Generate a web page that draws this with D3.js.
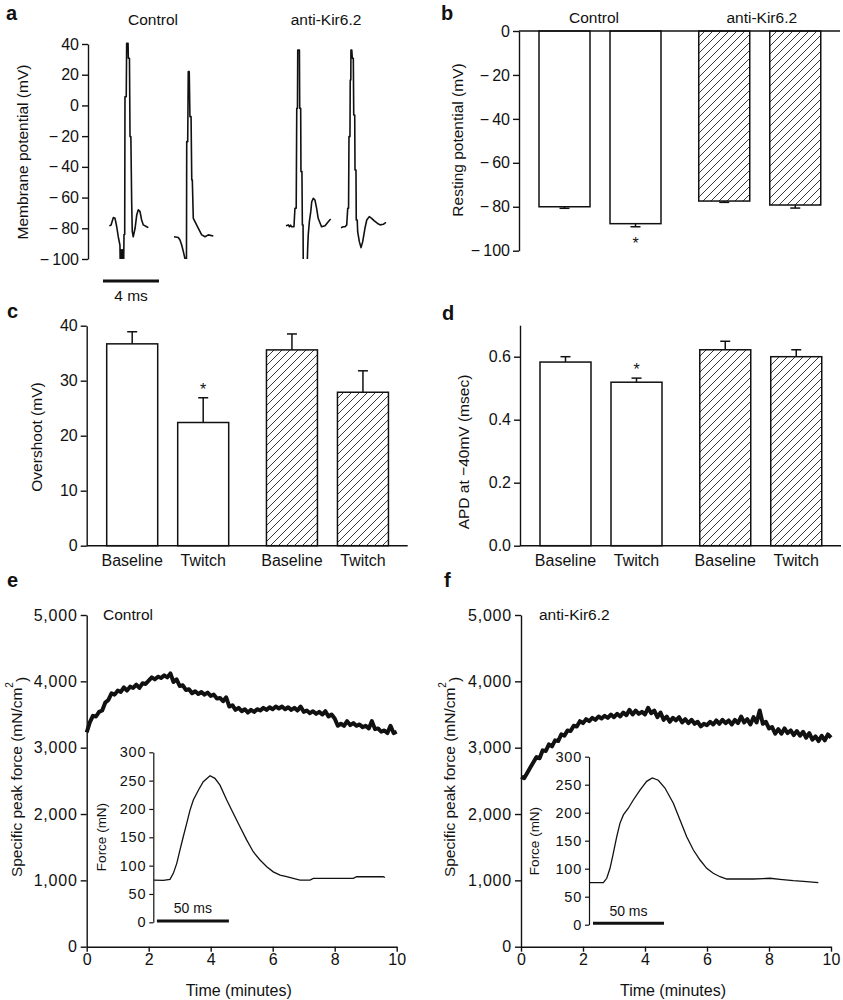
<!DOCTYPE html>
<html><head><meta charset="utf-8">
<script src="https://cdn.jsdelivr.net/npm/d3@7"></script>
<style>
body{margin:0;background:#fff}
svg text{font-family:"Liberation Sans",Arial,Helvetica,sans-serif;fill:#111}
</style></head><body><svg id="fig" width="843" height="1000"></svg>
<script>
// ---------------- DATA ----------------
// Panel a: action potential traces [time ms, mV]
const apControl1 = [[0.45,-78.3],[0.57,-78],[0.74,-73],[0.86,-73.5],[0.98,-79],[1.09,-85.5],[1.21,-91],[1.24,-108],[1.29,-94],[1.33,-108],[1.38,-94],[1.42,-108],[1.47,-108],[1.5,-84],[1.55,-84],[1.57,5.7],[1.66,5.7],[1.69,40.5],[1.79,40.5],[1.81,30.7],[1.89,30.7],[1.93,-20.3],[1.99,-20.3],[2.05,-63.7],[2.09,-82],[2.16,-85.5],[2.29,-80],[2.41,-71.3],[2.52,-68],[2.64,-69],[2.76,-74.6],[2.88,-77.8],[3.12,-79],[3.24,-79.6]];
const apControl2 = [[5.07,-85.5],[5.38,-86],[5.5,-87.6],[5.62,-90.9],[5.74,-95.2],[5.86,-100],[5.9,-108],[5.96,-108],[5.98,-23.6],[6.05,-23.6],[6.09,22],[6.16,22],[6.21,-7.3],[6.29,-7.3],[6.34,-48.5],[6.38,-48.5],[6.45,-73.5],[6.57,-75.7],[6.81,-80],[7.05,-84.3],[7.29,-85.5],[7.52,-84.3],[7.88,-85]];
const apAnti1 = [[13.07,-78.3],[13.24,-77.8],[13.32,-79],[13.4,-78],[13.48,-79],[13.64,-79],[13.71,-67],[13.8,-67],[13.84,-1.9],[13.89,-1.9],[13.91,36],[14.03,36],[14.05,-1.9],[14.12,-1.9],[14.14,-43.1],[14.21,-43.1],[14.24,-77.8],[14.29,-77.8],[14.31,-115],[14.55,-115],[14.62,-93],[14.66,-84.3],[14.74,-75.7],[14.84,-69.2],[14.91,-62.7],[15.02,-60.5],[15.14,-61.6],[15.26,-67],[15.37,-73.5],[15.61,-79],[15.86,-78.3],[16.09,-75.7],[16.26,-73.9]];
const apAnti2 = [[17.0,-79.6],[17.16,-79],[17.29,-79],[17.41,-77.8],[17.48,-67],[17.54,-67],[17.57,-20.3],[17.64,-20.3],[17.66,16.6],[17.7,16.6],[17.71,36],[17.77,36],[17.81,30.7],[17.88,30.7],[17.91,-6.2],[17.98,-6.2],[18.0,-42],[18.07,-42],[18.09,-74.6],[18.16,-74.6],[18.19,-82.2],[18.31,-88.7],[18.43,-92.6],[18.55,-88.7],[18.71,-80],[18.84,-74.6],[19.02,-72.4],[19.19,-73.5],[19.38,-75.2],[19.59,-76.7],[19.79,-77.8],[20.02,-77.4],[20.21,-76.1]];
const apTicks = [-100,-80,-60,-40,-20,0,20,40];

// Panels b-d: bar groups
const groups = ["Control", "anti-Kir6.2"];
const conditions = ["Baseline", "Twitch", "Baseline", "Twitch"];
const barGroup = [0, 0, 1, 1];
const restingMean = [-80.0, -87.7, -77.4, -79.2];
const restingErr  = [0.7, 1.4, 0.6, 1.4];
const overshootMean = [36.7, 22.4, 35.6, 27.9];
const overshootErr  = [2.2, 4.5, 2.9, 3.9];
const apdMean = [0.583, 0.519, 0.622, 0.600];
const apdErr  = [0.017, 0.013, 0.027, 0.022];
const starBar = 1;
const restingTicks = [0,-20,-40,-60,-80,-100];
const overshootTicks = [0,10,20,30,40];
const apdTicks = [0,0.2,0.4,0.6];

// Panels e-f: specific peak force over time
const forceMinutes = [0,0.1,0.2,0.3,0.4,0.5,0.6,0.7,0.8,0.9,1,1.1,1.2,1.3,1.4,1.5,1.6,1.7,1.8,1.9,2,2.1,2.2,2.3,2.4,2.5,2.6,2.7,2.8,2.9,3,3.1,3.2,3.3,3.4,3.5,3.6,3.7,3.8,3.9,4,4.1,4.2,4.3,4.4,4.5,4.6,4.7,4.8,4.9,5,5.1,5.2,5.3,5.4,5.5,5.6,5.7,5.8,5.9,6,6.1,6.2,6.3,6.4,6.5,6.6,6.7,6.8,6.9,7,7.1,7.2,7.3,7.4,7.5,7.6,7.7,7.8,7.9,8,8.1,8.2,8.3,8.4,8.5,8.6,8.7,8.8,8.9,9,9.1,9.2,9.3,9.4,9.5,9.6,9.7,9.8,9.9,10];
const forceControl = [3230,3380,3480,3470,3540,3560,3680,3720,3820,3800,3860,3840,3910,3860,3920,3900,3950,3900,3970,3960,4010,4060,4030,4070,4050,4090,4060,4120,3990,4030,3930,3940,3870,3880,3820,3850,3810,3840,3800,3830,3780,3800,3740,3750,3700,3760,3620,3640,3570,3600,3550,3580,3530,3570,3540,3580,3560,3600,3570,3610,3580,3620,3590,3620,3580,3610,3570,3600,3560,3620,3540,3560,3520,3550,3510,3540,3500,3550,3470,3500,3440,3330,3360,3330,3400,3340,3370,3330,3350,3310,3330,3290,3400,3280,3290,3240,3260,3220,3330,3220,3240];
const forceAnti = [2560,2540,2620,2700,2780,2860,2840,2960,2950,3050,3020,3110,3100,3200,3180,3260,3250,3330,3320,3400,3370,3430,3400,3450,3420,3470,3440,3480,3450,3500,3460,3510,3470,3530,3490,3570,3500,3560,3510,3540,3500,3600,3520,3560,3460,3530,3420,3470,3390,3450,3410,3460,3380,3430,3370,3420,3360,3390,3320,3360,3340,3390,3350,3410,3360,3420,3370,3410,3350,3420,3370,3470,3380,3430,3350,3460,3380,3560,3360,3390,3290,3310,3210,3280,3210,3290,3220,3260,3190,3250,3180,3240,3150,3220,3120,3170,3100,3180,3110,3200,3150];
const forceTicks = [0,1000,2000,3000,4000,5000];
const minuteTicks = [0,2,4,6,8,10];

// Insets: single twitch [time ms, mN]
const twitchControl = [[0.5,74.6],[6.9,74],[11.6,75.8],[13.9,86.4],[16.3,104],[18.5,127.5],[20.8,151],[23.2,174.6],[25.5,198],[27.8,215.7],[31.3,233],[34.7,248],[39.4,258.6],[42.8,254],[46.3,242],[51,215.7],[55.6,192],[60.2,168.6],[64.9,145],[69.4,124.5],[74.1,110],[78.8,98],[83.3,89],[88,83.4],[92.6,80.4],[97.2,77.6],[101.9,74.6],[108.8,74.6],[111.1,77.6],[125,77.6],[138.9,77.6],[141.2,80.4],[159.7,80.4],[160.9,79]];
const twitchAnti = [[0,75],[10.1,75],[12.5,82.9],[14.8,100.7],[17.1,127.5],[19.5,157],[21.8,181],[24.2,196],[27.7,208],[31.2,222.7],[35.9,240.5],[40.6,256],[44.6,262],[48.8,258],[53.5,244],[59.4,216.8],[64.1,187],[68.8,157],[73.5,133.4],[78.2,115.5],[82.9,100.7],[87.5,91.8],[92.3,85.7],[97,81.6],[106.3,81.6],[115.7,81.6],[127.5,82.9],[134.5,81],[143.9,78.6],[153.3,76.8],[161.5,75]];
const twitchTicks = [0,50,100,150,200,250,300];

// ---------------- DRAWING ----------------
const FONT = '"Liberation Sans", Arial, Helvetica, sans-serif';
const INK = "#111";
const svg = d3.select("#fig");
svg.append("rect").attr("width",843).attr("height",1000).attr("fill","#fff");
const defs = svg.append("defs");
const pat = defs.append("pattern").attr("id","hatch").attr("patternUnits","userSpaceOnUse").attr("width",8).attr("height",8);
pat.append("rect").attr("width",8).attr("height",8).attr("fill","#fff");
pat.append("path").attr("d","M-2,2L2,-2M0,8L8,0M6,10L10,6").attr("stroke","#222").attr("stroke-width",0.9);

const minusFmt = d => d < 0 ? "\u2212\u2009" + Math.abs(d) : String(d);

function styleAxis(g, size, sw){
  g.attr("font-family", FONT).attr("font-size", size);
  g.select(".domain").attr("stroke", INK).attr("stroke-width", sw || 1.4);
  g.selectAll(".tick line").attr("stroke", INK).attr("stroke-width", sw || 1.4);
  g.selectAll(".tick text").attr("fill", INK);
  return g;
}
function yLabel(cx, cy, txt, size){
  const t = svg.append("text").attr("transform",`translate(${cx},${cy}) rotate(-90)`)
    .attr("text-anchor","middle").attr("dy","0.35em").attr("font-size", size || 15.5);
  return t.text(txt);
}
function letter(t, x, y){
  svg.append("text").attr("x",x).attr("y",y).attr("font-size",20).attr("font-weight","bold").text(t);
}

// ----- Panel a -----
{
  const y = d3.scaleLinear().domain([-100,40]).range([259,44]);
  const x = d3.scaleLinear().domain([0,21.5]).range([103,404]);
  styleAxis(svg.append("g").attr("transform","translate(88,0)")
    .call(d3.axisLeft(y).tickValues(apTicks).tickFormat(minusFmt).tickSize(6).tickSizeOuter(0).tickPadding(3)), 16);
  defs.append("clipPath").attr("id","clipA").append("rect").attr("x",90).attr("y",30).attr("width",320).attr("height",y(-100)-30);
  const line = d3.line().x(d=>x(d[0])).y(d=>y(d[1]));
  const tg = svg.append("g").attr("clip-path","url(#clipA)");
  [apControl1, apControl2, apAnti1, apAnti2].forEach(tr => {
    tg.append("path").attr("d", line(tr)).attr("fill","none").attr("stroke",INK).attr("stroke-width",1.6).attr("stroke-linejoin","round");
  });
  // 4 ms scale bar
  svg.append("line").attr("x1",x(0)).attr("x2",x(4)).attr("y1",281).attr("y2",281).attr("stroke",INK).attr("stroke-width",3);
  svg.append("text").attr("x",x(2)).attr("y",301).attr("text-anchor","middle").attr("font-size",15.5).text("4 ms");
  svg.append("text").attr("x",153).attr("y",25).attr("text-anchor","middle").attr("font-size",15.5).text(groups[0]);
  svg.append("text").attr("x",326).attr("y",25).attr("text-anchor","middle").attr("font-size",15.5).text(groups[1]);
  yLabel(23, 152, "Membrane potential (mV)");
  letter("a", 6, 20);
}

// ----- Bar panels -----
function barPanel(o){
  const y = o.y;
  const slots = barGroup.map((g,i) => i + g*0.25);
  const xs = d3.scaleLinear().domain([0,1]).range([o.axisX+20, o.axisX+91]);
  const bw = 51;
  const g = svg.append("g");
  o.means.forEach((m,i) => {
    const y0 = y(0), y1 = y(m);
    g.append("rect").attr("x", xs(slots[i])).attr("y", Math.min(y0,y1)).attr("width", bw).attr("height", Math.abs(y1-y0))
      .attr("fill", barGroup[i] === 1 ? "url(#hatch)" : "#fff").attr("stroke", INK).attr("stroke-width",1.5);
    const end = m + Math.sign(m)*o.errs[i];
    const cx = xs(slots[i]) + bw/2;
    g.append("line").attr("x1",cx).attr("x2",cx).attr("y1",y1).attr("y2",y(end)).attr("stroke",INK).attr("stroke-width",1.5);
    g.append("line").attr("x1",cx-5).attr("x2",cx+5).attr("y1",y(end)).attr("y2",y(end)).attr("stroke",INK).attr("stroke-width",1.5);
    if (i === starBar) {
      g.append("text").attr("x",cx).attr("y", m < 0 ? y(end)+22 : y(end)-3).attr("text-anchor","middle").attr("font-size",16).text("*");
    }
  });
  g.append("line").attr("x1",o.axisX).attr("x2",o.axisX+321).attr("y1",y(0)).attr("y2",y(0)).attr("stroke",INK).attr("stroke-width",1.5);
  styleAxis(svg.append("g").attr("transform",`translate(${o.axisX},0)`)
    .call(d3.axisLeft(y).tickValues(o.ticks).tickFormat(o.fmt).tickSize(6).tickSizeOuter(0).tickPadding(3)), 16);
  if (o.catLabels) {
    conditions.forEach((c,i) => {
      svg.append("text").attr("x", xs(slots[i])+bw/2).attr("y", y(0)+20).attr("text-anchor","middle").attr("font-size",16).text(c);
    });
  }
  if (o.groupLabels) {
    [0,1].forEach(gi => {
      const idx = barGroup.map((g,i)=>g===gi?i:-1).filter(i=>i>=0);
      const cx = (xs(slots[idx[0]]) + xs(slots[idx[1]]) + bw)/2 + (gi===0 ? -6 : 2);
      svg.append("text").attr("x",cx).attr("y",o.groupLabelY).attr("text-anchor","middle").attr("font-size",15.5).text(groups[gi]);
    });
  }
  return xs;
}

barPanel({axisX:519, y:d3.scaleLinear().domain([-100,0]).range([250.7,31]), means:restingMean, errs:restingErr,
  ticks:restingTicks, fmt:minusFmt, groupLabels:true, groupLabelY:23});
yLabel(458, 140, "Resting potential (mV)");
letter("b", 441, 20);

barPanel({axisX:86.7, y:d3.scaleLinear().domain([0,40]).range([545.7,325.7]), means:overshootMean, errs:overshootErr,
  ticks:overshootTicks, fmt:d3.format("d"), catLabels:true});
yLabel(37, 437, "Overshoot (mV)");
letter("c", 7, 318);

barPanel({axisX:520, y:d3.scaleLinear().domain([0,0.7]).range([545.7,325.2]), means:apdMean, errs:apdErr,
  ticks:apdTicks, fmt:d3.format(".1f"), catLabels:true});
yLabel(464, 452, "APD at \u221240mV (msec)");
letter("d", 442, 320);

// ----- Force panels -----
function forcePanel(o){
  const y = d3.scaleLinear().domain([0,5000]).range([946.7,615]);
  const x = d3.scaleLinear().domain([0,10]).range([o.axisX, o.axisX+310]);
  styleAxis(svg.append("g").attr("transform",`translate(${o.axisX},0)`)
    .call(d3.axisLeft(y).tickValues(forceTicks).tickFormat(d3.format(",")).tickSize(6).tickSizeOuter(0).tickPadding(3)), 16)
    .selectAll(".tick text").attr("letter-spacing", 0.8);
  styleAxis(svg.append("g").attr("transform",`translate(0,${y(0)})`)
    .call(d3.axisBottom(x).tickValues(minuteTicks).tickFormat(d3.format("d")).tickSize(5).tickSizeOuter(0).tickPadding(2)), 16);
  const line = d3.line().x((d,i)=>x(forceMinutes[i])).y(d=>y(d));
  svg.append("path").attr("d", line(o.force)).attr("fill","none").attr("stroke",INK).attr("stroke-width",4).attr("stroke-linejoin","round");
  svg.append("text").attr("x",o.titleX).attr("y",620).attr("font-size",15.5).text(o.title);
  svg.append("text").attr("x",x(5)-3).attr("y",996).attr("text-anchor","middle").attr("font-size",16).text("Time (minutes)");
  const yl = svg.append("text").attr("transform",`translate(${o.labelX},777) rotate(-90)`).attr("text-anchor","middle").attr("dy","0.35em").attr("font-size",15.5);
  yl.append("tspan").text("Specific peak force (mN/cm");
  yl.append("tspan").attr("font-size",10).attr("dy","-0.9em").text("2");
  yl.append("tspan").attr("dy","0.9em").text(")");
  // inset
  const iy = d3.scaleLinear().domain([0,300]).range([o.inZero, o.inTop]);
  const ix = d3.scaleLinear().domain([0,160]).range([o.inAxisX, o.inAxisX+160*o.inPxPerMs]);
  styleAxis(svg.append("g").attr("transform",`translate(${o.inAxisX},0)`)
    .call(d3.axisLeft(iy).tickValues(twitchTicks).tickFormat(d3.format("d")).tickSize(4).tickSizeOuter(0).tickPadding(3)), 14.5, 1.2)
    .selectAll(".tick text").attr("letter-spacing", 0.8);
  svg.append("path").attr("d", d3.line().x(d=>ix(d[0])).y(d=>iy(d[1]))(o.twitch)).attr("fill","none").attr("stroke",INK).attr("stroke-width",1.3);
  svg.append("line").attr("x1",ix(o.barStart)).attr("x2",ix(o.barStart+50)).attr("y1",iy(2.5)).attr("y2",iy(2.5)).attr("stroke",INK).attr("stroke-width",3);
  svg.append("text").attr("x",ix(o.barStart+25)).attr("y",o.barLabelY).attr("text-anchor","middle").attr("font-size",14).text("50 ms");
  yLabel(o.inLabelX, o.inLabelY, "Force (mN)", 13.5);
}

forcePanel({axisX:86.7, force:forceControl, title:groups[0], titleX:103, labelX:17,
  inZero:922.3, inTop:752.3, inAxisX:153.3, inPxPerMs:1.44, twitch:twitchControl, barStart:2.5, barLabelY:913, inLabelX:101, inLabelY:837});
letter("e", 7, 587);
forcePanel({axisX:521, force:forceAnti, title:groups[1], titleX:539, labelX:450,
  inZero:924.7, inTop:756.7, inAxisX:589, inPxPerMs:1.42, twitch:twitchAnti, barStart:2.8, barLabelY:916, inLabelX:534, inLabelY:841});
letter("f", 444, 587);
</script></body></html>
